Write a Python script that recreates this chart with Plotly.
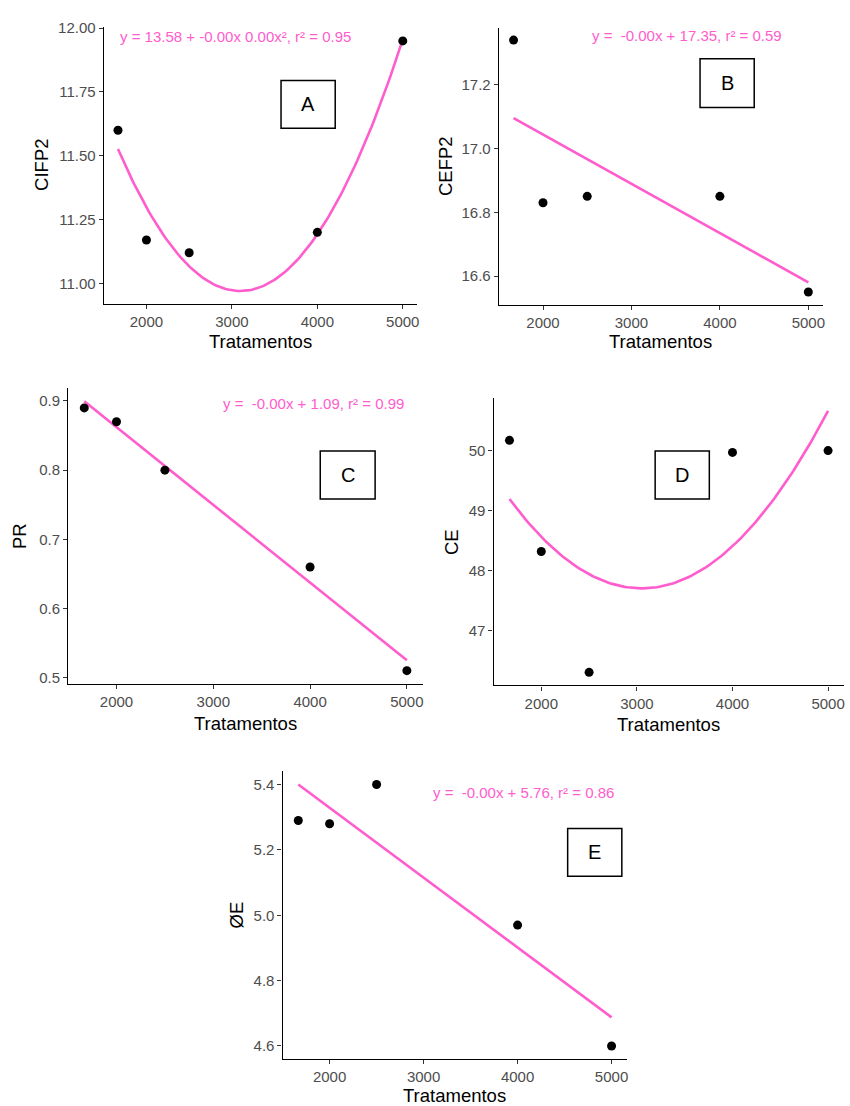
import numpy as np
import plotly.graph_objects as go

# ---------------- data ----------------
tratamentos = [1667, 2000, 2500, 4000, 5000]
cifp2 = [11.60, 11.17, 11.12, 11.20, 11.95]
cefp2 = [17.34, 16.83, 16.85, 16.85, 16.55]
pr = [0.89, 0.87, 0.80, 0.66, 0.51]
ce = [50.17, 48.32, 46.31, 49.97, 50.00]
oe = [5.29, 5.28, 5.40, 4.97, 4.60]

x_ticks = [2000, 3000, 4000, 5000]
eq_texts = {
    "A": "y = 13.58 + -0.00x 0.00x², r² = 0.95",
    "B": "y = \u00a0-0.00x + 17.35, r² = 0.59",
    "C": "y = \u00a0-0.00x + 1.09, r² = 0.99",
    "E": "y = \u00a0-0.00x + 5.76, r² = 0.86",
}

PINK = "#FF5CCD"
W, H = 850, 1106
FONT = "Liberation Sans, Arial, sans-serif"


def px(x):
    return x / W


def py(y):
    return 1 - y / H


# panel geometry in pixels: (x0, x1, ytop, ybottom)
panels = [
    dict(key="A", y=cifp2, deg=2, ytitle="CIFP2", box=(104, 418, 20, 299),
         ytick=[11.00, 11.25, 11.50, 11.75, 12.00], fmt=".2f",
         ytx=40.8, xty=337, eq=(118, 30), lab=(281.7, 336, 74, 122.3)),
    dict(key="B", y=cefp2, deg=1, ytitle="CEFP2", box=(500, 825, 20.7, 300),
         ytick=[16.6, 16.8, 17.0, 17.2], fmt=".1f",
         ytx=446, xty=337.5, eq=(591, 28.3), lab=(701.7, 756, 52.3, 101.3)),
    dict(key="C", y=pr, deg=1, ytitle="PR", box=(68.3, 424, 384, 682.7),
         ytick=[0.5, 0.6, 0.7, 0.8, 0.9], fmt=".1f",
         ytx=19, xty=722, eq=(221.7, 399.3), lab=(321, 376, 447.7, 496)),
    dict(key="D", y=ce, deg=2, ytitle="CE", box=(494.7, 846, 394, 684),
         ytick=[47, 48, 49, 50], fmt="d",
         ytx=452.5, xty=723, eq=None, lab=(656.7, 711, 447.7, 496)),
    dict(key="E", y=oe, deg=1, ytitle="ØE", box=(283.3, 628.7, 770.7, 1060.7),
         ytick=[4.6, 4.8, 5.0, 5.2, 5.4], fmt=".1f",
         ytx=236.7, xty=1097, eq=(432, 791.7), lab=(569, 623.3, 828.3, 876.3)),
]

fig = go.Figure()
annotations = []
shapes = []
x_arr = np.array(tratamentos, dtype=float)
xs = np.linspace(x_arr.min(), x_arr.max(), 120)

for i, p in enumerate(panels, start=1):
    xa = "x" if i == 1 else f"x{i}"
    ya = "y" if i == 1 else f"y{i}"
    y_arr = np.array(p["y"], dtype=float)
    coef = np.polyfit(x_arr, y_arr, p["deg"])
    ys = np.polyval(coef, xs)

    fig.add_trace(go.Scatter(x=xs, y=ys, mode="lines", xaxis=xa, yaxis=ya,
                             line=dict(color=PINK, width=2.6), showlegend=False,
                             hoverinfo="skip"))
    fig.add_trace(go.Scatter(x=x_arr, y=y_arr, mode="markers", xaxis=xa, yaxis=ya,
                             marker=dict(color="black", size=9), showlegend=False))

    # ggplot-like 5% expansion
    xr = x_arr.max() - x_arr.min()
    xrange = [x_arr.min() - 0.05 * xr, x_arr.max() + 0.05 * xr]
    allv = np.concatenate([y_arr, ys])
    yr = allv.max() - allv.min()
    yrange = [allv.min() - 0.05 * yr, allv.max() + 0.05 * yr]

    x0, x1, yt, yb = p["box"]
    axis_common = dict(showgrid=False, zeroline=False, showline=True,
                       linecolor="black", linewidth=1.3, ticks="outside",
                       ticklen=4, tickwidth=1.1, tickcolor="#333333",
                       tickfont=dict(family=FONT, size=15, color="#4D4D4D"),
                       mirror=False, fixedrange=True)
    xkey = "xaxis" if i == 1 else f"xaxis{i}"
    ykey = "yaxis" if i == 1 else f"yaxis{i}"
    fig.update_layout(**{
        xkey: dict(domain=[px(x0), px(x1)], anchor=ya, range=xrange,
                   tickvals=x_ticks, ticktext=[str(t) for t in x_ticks],
                   **axis_common),
        ykey: dict(domain=[py(yb), py(yt)], anchor=xa, range=yrange,
                   tickvals=p["ytick"],
                   ticktext=[format(v, p["fmt"]) if p["fmt"] != "d" else str(int(v))
                             for v in p["ytick"]],
                   **axis_common),
    })

    # axis titles
    annotations.append(dict(x=px((x0 + x1) / 2), y=py(p["xty"]), xref="paper", yref="paper",
                            text="Tratamentos", showarrow=False, xanchor="center",
                            yanchor="middle",
                            font=dict(family=FONT, size=18.5, color="black")))
    annotations.append(dict(x=px(p["ytx"]), y=py((yt + yb) / 2), xref="paper", yref="paper",
                            text=p["ytitle"], showarrow=False, textangle=-90,
                            xanchor="center", yanchor="middle",
                            font=dict(family=FONT, size=18.5, color="black")))
    # regression equation
    if p["eq"] is not None:
        ex, ey = p["eq"]
        annotations.append(dict(x=px(ex), y=py(ey), xref="paper", yref="paper",
                                text=eq_texts[p["key"]], showarrow=False,
                                xanchor="left", yanchor="middle",
                                font=dict(family=FONT, size=15, color=PINK)))
    # panel label box
    lx0, lx1, ly0, ly1 = p["lab"]
    shapes.append(dict(type="rect", xref="paper", yref="paper",
                       x0=px(lx0), x1=px(lx1), y0=py(ly1), y1=py(ly0),
                       line=dict(color="black", width=1.5), fillcolor="white",
                       layer="above"))
    annotations.append(dict(x=px((lx0 + lx1) / 2), y=py((ly0 + ly1) / 2),
                            xref="paper", yref="paper", text=p["key"],
                            showarrow=False, xanchor="center", yanchor="middle",
                            font=dict(family=FONT, size=20, color="black")))

fig.update_layout(width=W, height=H, margin=dict(l=0, r=0, t=0, b=0),
                  paper_bgcolor="white", plot_bgcolor="white",
                  annotations=annotations, shapes=shapes, showlegend=False)

post = (
    "var h=document.documentElement,b=document.body;"
    "h.style.margin='0';h.style.padding='0';h.style.overflow='hidden';"
    "b.style.margin='0';b.style.padding='0';b.style.overflow='hidden';"
    "var d=document.getElementById('{plot_id}');"
    "d.style.position='absolute';d.style.left='0px';d.style.top='0px';"
)
fig.write_html("out.html", config={"displayModeBar": False}, post_script=post)
